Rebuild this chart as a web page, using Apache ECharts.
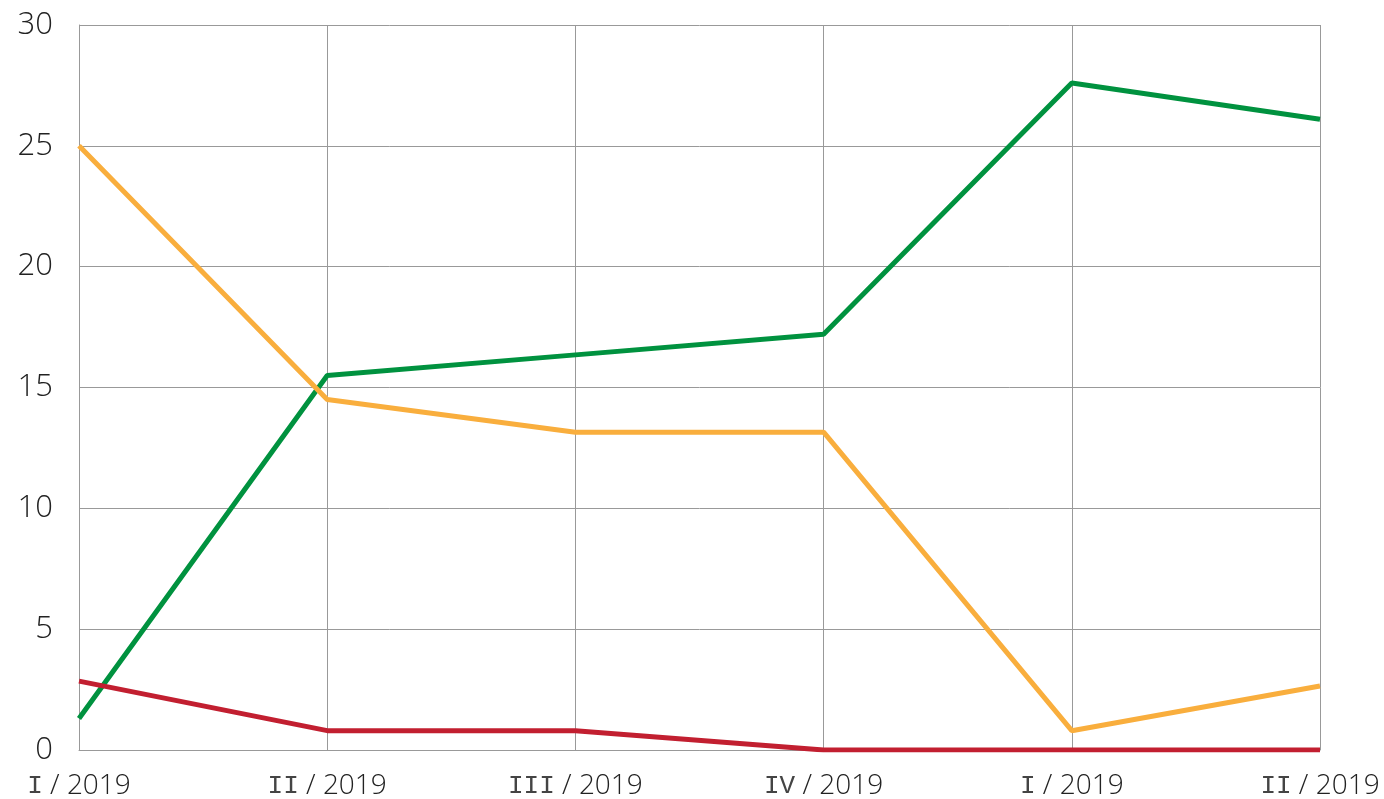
<!DOCTYPE html>
<html><head><meta charset="utf-8">
<script src="https://cdn.jsdelivr.net/npm/echarts@6/dist/echarts.min.js"></script>
<style>html,body{margin:0;padding:0;background:#fff}#c{width:1384px;height:799px}</style>
</head><body><div id="c"></div>
<script>
const categories = ['I / 2019','II / 2019','III / 2019','IV / 2019','I / 2019','II / 2019'];
const greenValues = [1.3, 15.5, 16.35, 17.2, 27.6, 26.1];
const orangeValues = [25.0, 14.5, 13.15, 13.15, 0.8, 2.65];
const redValues = [2.85, 0.8, 0.8, 0, 0, 0];
const yTicks = [0, 5, 10, 15, 20, 25, 30];

const chart = echarts.init(document.getElementById('c'));
const lineStyle = (c) => ({ color: c, width: 5 });
chart.setOption({
  animation: false,
  grid: { left: 79, right: 64, top: 25, bottom: 49, containLabel: false, outerBoundsMode: 'none' },
  xAxis: {
    type: 'category', data: categories, boundaryGap: false,
    axisLine: { show: true, lineStyle: { color: '#999', width: 1 } },
    axisTick: { show: false },
    splitLine: { show: true, lineStyle: { color: '#999', width: 1 } },
    axisLabel: {
      color: '#222', fontSize: 28, fontFamily: 'Open Sans', fontWeight: 300, margin: 22, interval: 0,
      formatter: (v) => { const p = v.split(' / '); return '{r|' + p[0] + '}{n| / ' + p[1] + '}'; },
      rich: {
        r: { fontFamily: 'Liberation Mono', fontSize: 26, color: '#444' },
        n: { fontFamily: 'Open Sans', fontWeight: 300, fontSize: 28, color: '#222' }
      }
    }
  },
  yAxis: {
    type: 'value', min: 0, max: 30, interval: 5,
    axisLine: { show: true, lineStyle: { color: '#999', width: 1 } },
    axisTick: { show: false },
    splitLine: { show: true, lineStyle: { color: '#999', width: 1 } },
    axisLabel: { color: '#222', fontSize: 31, fontFamily: 'Open Sans', fontWeight: 300, margin: 26,
      formatter: (v) => yTicks.includes(v) ? String(v) : '' }
  },
  series: [
    { type: 'line', data: greenValues, symbol: 'none', lineStyle: lineStyle('#00923f'), itemStyle: { color: '#00923f' } },
    { type: 'line', data: orangeValues, symbol: 'none', lineStyle: lineStyle('#f9ae3d'), itemStyle: { color: '#f9ae3d' } },
    { type: 'line', data: redValues, symbol: 'none', lineStyle: lineStyle('#c21f30'), itemStyle: { color: '#c21f30' } }
  ]
});
</script></body></html>
